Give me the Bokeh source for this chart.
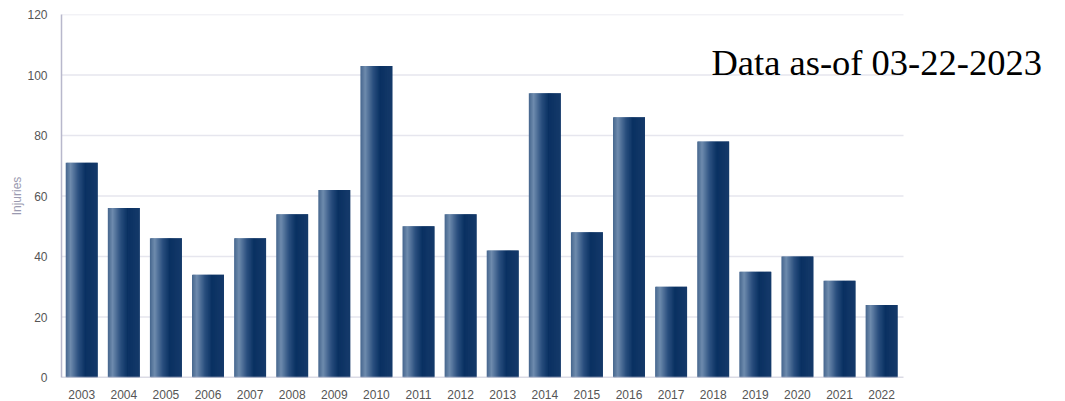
import numpy as np
from bokeh.plotting import figure
from bokeh.models import Label, FixedTicker, Range1d
from bokeh.embed import file_html
from bokeh.resources import INLINE

years = ["2003", "2004", "2005", "2006", "2007", "2008", "2009", "2010", "2011", "2012",
         "2013", "2014", "2015", "2016", "2017", "2018", "2019", "2020", "2021", "2022"]
injuries = [71, 56, 46, 34, 46, 54, 62, 103, 50, 54, 42, 94, 48, 86, 30, 78, 35, 40, 32, 24]
y_ticks = [0, 20, 40, 60, 80, 100, 120]
note = "Data as-of 03-22-2023"

# layout in pixels
W, H = 1065, 401
left, top, bottom = 61, 14, 23
cat_px = 842 / 20.0            # pixels per category
x0 = -0.48
x_end = x0 + (W - left) / cat_px
x_axis_end = 19.52

p = figure(width=W, height=H, output_backend="svg", toolbar_location=None,
           x_range=Range1d(x0, x_end), y_range=Range1d(0, 120),
           min_border_left=left, min_border_right=0, min_border_top=top, min_border_bottom=bottom)

# gridlines and x-axis line limited to the chart area
p.segment(x0=[x0] * len(y_ticks[1:]), x1=[x_axis_end] * len(y_ticks[1:]), y0=y_ticks[1:], y1=y_ticks[1:],
          line_color="#e6e6ee", line_width=1.5)

# gradient bars drawn as narrow strips
stops_t = [0.0, 0.15, 0.4, 0.62, 1.0]
stops_c = [(0x45, 0x66, 0x8e), (0x6e, 0x8b, 0xad), (0x2a, 0x4f, 0x7f), (0x0a, 0x31, 0x62), (0x16, 0x3a, 0x6a)]
bar_w = 0.76
n = 30
xs = np.arange(len(years))
sw = bar_w / n
for i in range(n):
    t = (i + 0.5) / n
    rgb = [int(round(np.interp(t, stops_t, [c[k] for c in stops_c]))) for k in range(3)]
    col = "#%02x%02x%02x" % tuple(rgb)
    w = sw * 1.8 if i < n - 1 else sw
    cx = xs - bar_w / 2 + i * sw + w / 2
    p.vbar(x=cx, top=injuries, width=w, fill_color=col, line_color=None)

p.segment(x0=[x0], x1=[x_axis_end], y0=[0], y1=[0], line_color="#b8b8cc", line_width=1.5)

p.xaxis.ticker = FixedTicker(ticks=list(xs))
p.xaxis.major_label_overrides = {int(i): y for i, y in enumerate(years)}
p.yaxis.ticker = FixedTicker(ticks=y_ticks)
p.yaxis.axis_label = "Injuries"
p.yaxis.axis_label_text_font = "Liberation Sans"
p.yaxis.axis_label_text_font_style = "normal"
p.yaxis.axis_label_text_font_size = "12px"
p.yaxis.axis_label_text_color = "#9a9ab0"
p.yaxis.axis_label_standoff = 0
for ax in (p.xaxis, p.yaxis):
    ax.major_label_text_font = "Liberation Sans"
    ax.major_label_text_font_size = "12px"
    ax.major_label_text_color = "#555555"
    ax.major_tick_line_color = None
    ax.minor_tick_line_color = None
p.yaxis.axis_line_color = "#b8b8cc"
p.yaxis.axis_line_width = 1.5
p.xaxis.axis_line_color = None
p.yaxis.major_label_standoff = 8
p.xaxis.major_label_standoff = 6

p.xgrid.grid_line_color = None
p.ygrid.grid_line_color = None
p.outline_line_color = None

note_x = x0 + (711 - left) / cat_px
p.add_layout(Label(x=note_x, y=104.0, text=note, text_font="Liberation Serif",
                   text_font_size="36.5px", text_color="#000000", text_baseline="alphabetic"))

open("out.html", "w").write(file_html(p, INLINE))
